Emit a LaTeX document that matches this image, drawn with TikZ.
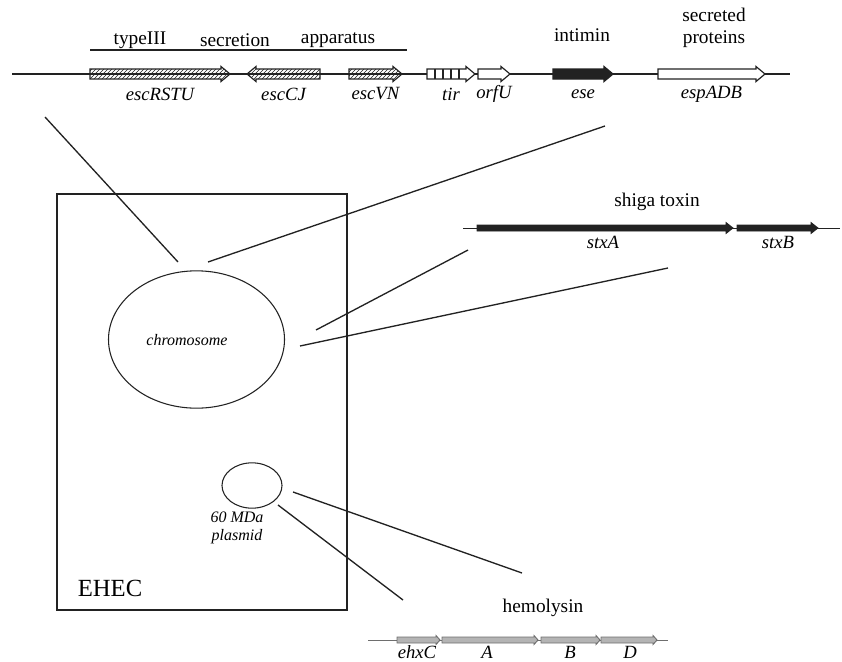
\documentclass[tikz,border=0pt]{standalone}
\usepackage{fontspec}
\setmainfont{Liberation Serif}
\usetikzlibrary{positioning, patterns, shapes.geometric, math}
\usepackage{xcolor}
\definecolor{InkCol}{HTML}{222222}
\definecolor{HlyCol}{HTML}{B4B4B4}
\definecolor{HlyColLine}{HTML}{6E6E6E}

\tikzset{
	dna/.style = {InkCol, line width = 1pt},
	escgene/.style = {draw = InkCol, line width = 0.9pt, pattern = north east lines, pattern color = InkCol},
	opengene/.style = {draw = InkCol, line width = 0.9pt, fill = white},
	solidgene/.style = {draw = InkCol, line width = 0.9pt, fill = InkCol},
	hlygene/.style = {draw = HlyColLine, line width = 0.7pt, fill = HlyCol},
	genelabel/.style = {font = \fontsize{14}{16}\selectfont\itshape, inner sep = 0pt},
	headlabel/.style = {font = \fontsize{14.5}{16}\selectfont, inner sep = 0pt},
	smalllabel/.style = {font = \fontsize{12}{13}\selectfont\itshape, inner sep = 0pt},
	pointer/.style = {InkCol, line width = 1pt},
}

\begin{document}
\begin{tikzpicture}[x = 0.75pt, y = -0.75pt]
	\useasboundingbox (0, 0) rectangle (842, 661);
	% chromosome region: type III secretion, intimin, secreted proteins
	\begin{scope}[shift = {(0, 74)}]
		\draw[dna] (12, 0) -- (790, 0);
		\foreach \ta/\hd/\gname/\gsty in {90/230/escRSTU/escgene, 320/247/escCJ/escgene, 349/402/escVN/escgene, 427/475/tir/opengene, 478/510/orfU/opengene, 553/613/ese/solidgene, 658/765/espADB/opengene} {
				\tikzmath{
					\bs = (\hd > \ta) ? \hd - 9 : \hd + 9;
				}
				\draw[\gsty] (\ta, -5) -- (\bs, -5) -- (\bs, -7.5) -- (\hd, 0) -- (\bs, 7.5) -- (\bs, 5) -- (\ta, 5) -- cycle;
				\node[genelabel] (\gname) at ({(\ta + \hd) / 2}, 20) {\gname};
			}
		\foreach \x in {435, 443, ..., 459}
			\draw[InkCol, line width = 0.8pt] (\x, -5) -- (\x, 5);
		\draw[InkCol, line width = 1.2pt] (90, -24) -- (407, -24);
		\node[headlabel] (typeIII) at (140, -34) {typeIII};
		\node[headlabel] (secretion) at (235, -34) {secretion};
		\node[headlabel] (apparatus) at (338, -34) {apparatus};
		\node[headlabel] (intimin) at (582, -39) {intimin};
		\node[headlabel, align = center] (secreted) at (714, -46) {secreted\\proteins};
	\end{scope}
	% shiga toxin
	\begin{scope}[shift = {(0, 228)}]
		\draw[InkCol, line width = 0.6pt] (463, 0) -- (840, 0);
		\foreach \ta/\hd/\gname in {477/733/stxA, 737/818/stxB} {
				\draw[solidgene, line width = 0.6pt] (\ta, -3) -- (\hd - 7, -3) -- (\hd - 7, -5.5) -- (\hd, 0) -- (\hd - 7, 5.5) -- (\hd - 7, 3) -- (\ta, 3) -- cycle;
			}
		\node[genelabel] (stxA) at (603, 14) {stxA};
		\node[genelabel] (stxB) at (778, 14) {stxB};
		\node[headlabel] (shiga) at (657, -26) {shiga toxin};
	\end{scope}
	% hemolysin
	\begin{scope}[shift = {(0, 640)}]
		\draw[HlyColLine, line width = 0.7pt] (368, 0) -- (668, 0);
		\foreach \ta/\hd/\gname/\lx in {397/440/ehxC/417, 442/538/A/487, 541/600/B/570, 601/657/D/630} {
				\draw[hlygene] (\ta, -3) -- (\hd - 4, -3) -- (\hd - 4, -4.5) -- (\hd, 0) -- (\hd - 4, 4.5) -- (\hd - 4, 3) -- (\ta, 3) -- cycle;
				\node[genelabel] (hly\gname) at (\lx, 12) {\gname};
			}
		\node[headlabel] (hemolysin) at (543, -32) {hemolysin};
	\end{scope}
	% the cell
	\draw[InkCol, line width = 1.2pt] (57, 194) rectangle (347, 610);
	\node[font = \fontsize{18.5}{20}\selectfont, inner sep = 0pt] (ehec) at (110, 588) {EHEC};
	\node[draw = InkCol, line width = 0.8pt, ellipse, minimum width = 132pt, minimum height = 103pt] (chrom) at (196.5, 339.5) {};
	\node[smalllabel] (chrom-lbl) at (187, 340) {chromosome};
	\node[draw = InkCol, line width = 0.8pt, ellipse, minimum width = 45pt, minimum height = 34pt] (pmid) at (252, 485.5) {};
	\node[smalllabel, align = center] (pmid-lbl) at (237, 528) {60 MDa\\plasmid};
	% pointers
	\coordinate (esc-end) at (45, 117);
	\coordinate (chrom-a) at (178, 262);
	\coordinate (esp-end) at (605, 126);
	\coordinate (chrom-b) at (208, 262);
	\coordinate (stx-a) at (468, 250);
	\coordinate (chrom-c) at (316, 330);
	\coordinate (stx-b) at (668, 268);
	\coordinate (chrom-d) at (300, 346);
	\coordinate (hly-a) at (522, 573);
	\coordinate (pmid-a) at (293, 492);
	\coordinate (hly-b) at (403, 600);
	\coordinate (pmid-b) at (278, 505);
	\foreach \from/\to in {esc-end/chrom-a, esp-end/chrom-b, stx-a/chrom-c, stx-b/chrom-d, hly-a/pmid-a, hly-b/pmid-b}
		\draw[pointer] (\from) -- (\to);
\end{tikzpicture}
\end{document}
